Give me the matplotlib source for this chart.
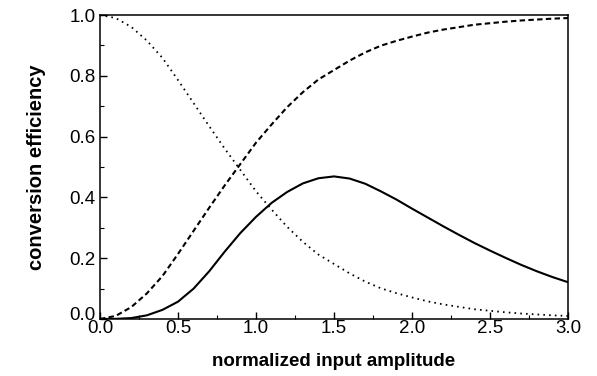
import matplotlib.pyplot as plt
from matplotlib.ticker import MultipleLocator
from matplotlib.transforms import ScaledTranslation

# values
amplitude = [0.0, 0.1, 0.2, 0.3, 0.4, 0.5, 0.6, 0.7, 0.8, 0.9, 1.0,
             1.1, 1.2, 1.3, 1.4, 1.5, 1.6, 1.7, 1.8, 1.9, 2.0,
             2.1, 2.2, 2.3, 2.4, 2.5, 2.6, 2.7, 2.8, 2.9, 3.0]

solid = [0.0, 0.0005, 0.003, 0.012, 0.030, 0.057, 0.100, 0.157, 0.222, 0.283, 0.336,
         0.382, 0.418, 0.446, 0.463, 0.469, 0.462, 0.445, 0.420, 0.393, 0.363,
         0.334, 0.305, 0.277, 0.250, 0.225, 0.201, 0.178, 0.157, 0.138, 0.121]

dashed = [0.0, 0.010, 0.039, 0.084, 0.141, 0.214, 0.290, 0.366, 0.440, 0.510, 0.580,
          0.640, 0.697, 0.746, 0.788, 0.819, 0.850, 0.877, 0.899, 0.915, 0.929,
          0.942, 0.952, 0.960, 0.968, 0.973, 0.978, 0.982, 0.985, 0.988, 0.990]

dotted = [1.0, 0.990, 0.961, 0.916, 0.859, 0.786, 0.710, 0.634, 0.560, 0.490, 0.420,
          0.360, 0.303, 0.254, 0.212, 0.181, 0.150, 0.123, 0.101, 0.085, 0.071,
          0.058, 0.048, 0.040, 0.032, 0.027, 0.022, 0.018, 0.015, 0.012, 0.010]

xticks = [0.0, 0.5, 1.0, 1.5, 2.0, 2.5, 3.0]
yticks = [0.0, 0.2, 0.4, 0.6, 0.8, 1.0]

plt.rcParams["font.family"] = ["Liberation Sans", "DejaVu Sans"]

fig = plt.figure(figsize=(5.97, 3.76), dpi=100)
ax = fig.add_axes([0.1675, 0.1516, 0.784, 0.8085])

ax.plot(amplitude, solid, color="black", lw=1.5, linestyle="-")
ax.plot(amplitude, dashed, color="black", lw=1.5, linestyle=(0, (2.6, 1.6)))
ax.plot(amplitude, dotted, color="black", lw=1.3, linestyle=(0, (0.9, 2.3)))

ax.set_xlim(0, 3)
ax.set_ylim(0, 1)
ax.set_xticks(xticks)
ax.set_xticklabels([f"{v:.1f}" for v in xticks])
ax.set_yticks(yticks)
ax.set_yticklabels([f"{v:.1f}" for v in yticks])
ax.xaxis.set_minor_locator(MultipleLocator(0.25))
ax.yaxis.set_minor_locator(MultipleLocator(0.1))

ax.tick_params(which="major", direction="in", length=5, width=1, labelsize=13.5)
ax.tick_params(axis="x", which="major", pad=1)
ax.tick_params(axis="y", which="major", pad=3)
ax.tick_params(which="minor", direction="in", length=3, width=0.8)
for s in ax.spines.values():
    s.set_linewidth(1.1)

# lift the y "0.0" label a little so it clears the x "0.0"
lbl = ax.get_yticklabels()[0]
lbl.set_transform(lbl.get_transform() + ScaledTranslation(0, 4 / 72, fig.dpi_scale_trans))

ax.set_xlabel("normalized input amplitude", fontsize=13.5, fontweight="bold", labelpad=11)
ax.set_ylabel("conversion efficiency", fontsize=14.5, fontweight="bold", labelpad=17)

fig.savefig("out.png", dpi=100)
